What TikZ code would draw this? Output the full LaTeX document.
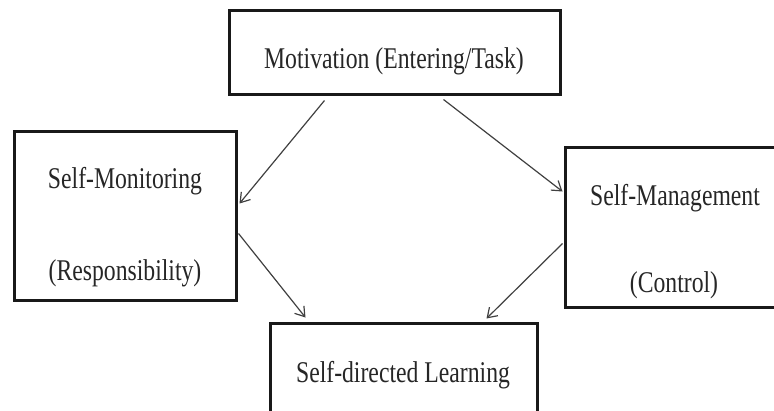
\documentclass[tikz,border=0pt]{standalone}
\usepackage{fontspec}
\setmainfont{Liberation Serif}
\usetikzlibrary{arrows.meta,calc}
\newcommand{\lbltext}[1]{\fontsize{23.7}{28}\selectfont\scalebox{1}[1.27]{#1}}
\begin{document}
\begin{tikzpicture}[x=1pt,y=-1pt,
  box/.style={draw=black!90,line width=3pt,rectangle,inner sep=0pt,minimum width=#1},
  lbl/.style={anchor=base,inner sep=0pt,text=black!85},
  conn/.style={draw=black!75,line width=1.2pt,-{Straight Barb[length=9pt,width=12pt,line width=1.2pt]}}]
\useasboundingbox (0,0) rectangle (774,410);
\node[box=331pt,minimum height=84pt] (top) at (394.5,52) {};
\node[box=222pt,minimum height=169pt] (left) at (125,215.5) {};
\node[box=215pt,minimum height=160pt] (right) at (672.5,227) {};
\node[box=267pt,minimum height=102pt] (bot) at (403.5,374) {};
\node[lbl] (tt) at (394,68) {\lbltext{Motivation (Entering/Task)}};
\node[lbl] (lt1) at (125,188) {\lbltext{Self-Monitoring}};
\node[lbl] (lt2) at (125,280) {\lbltext{(Responsibility)}};
\node[lbl] (rt1) at (675,205) {\lbltext{Self-Management}};
\node[lbl] (rt2) at (674,292) {\lbltext{(Control)}};
\node[lbl] (bt) at (403,382) {\lbltext{Self-directed Learning}};
\coordinate (a1s) at ($(top.south west)+(97,5)$);
\coordinate (a1e) at ($(left.north east)+(2,74)$);
\coordinate (a2s) at ($(top.south west)+(216,4)$);
\coordinate (a2e) at ($(right.north west)+(-1,46)$);
\coordinate (a3s) at ($(left.north east)+(1,104)$);
\coordinate (a3e) at ($(bot.north west)+(37,-4)$);
\coordinate (a4s) at ($(right.north west)+(-1,98)$);
\coordinate (a4e) at ($(bot.north west)+(218,-3)$);
\draw[conn] (a1s) -- (a1e);
\draw[conn] (a2s) -- (a2e);
\draw[conn] (a3s) -- (a3e);
\draw[conn] (a4s) -- (a4e);
\end{tikzpicture}
\end{document}
